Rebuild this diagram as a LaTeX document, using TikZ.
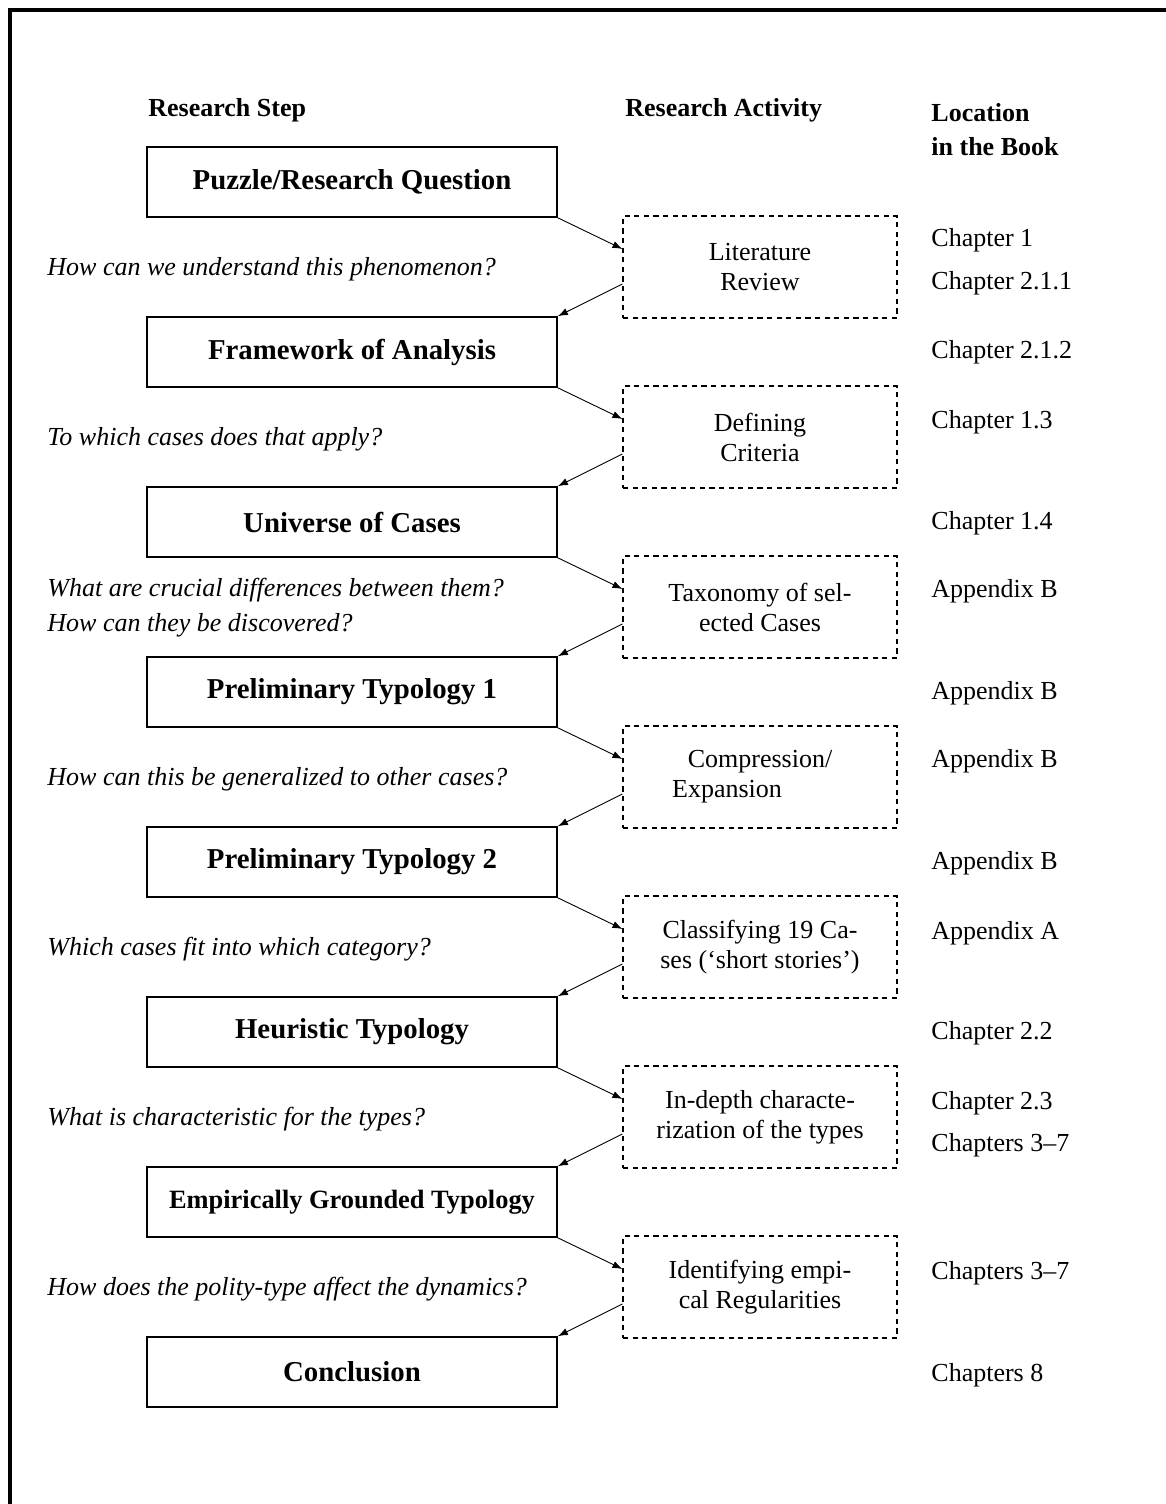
\documentclass[tikz,border=0pt]{standalone}
\usepackage{fontspec}
\setmainfont{Liberation Serif}
\usetikzlibrary{arrows.meta}

\tikzset{
  stepbox/.style={draw, line width=0.8pt, minimum width=205pt, minimum height=35pt, inner sep=0pt, font=\fontsize{14.4}{17}\selectfont\bfseries},
  actbox/.style={draw, line width=0.55pt, dash pattern=on 2.6pt off 2.2pt, minimum width=137pt, minimum height=51pt, inner sep=0pt, align=center, font=\fontsize{13}{15}\selectfont},
  question/.style={anchor=west, inner sep=0pt, font=\fontsize{13}{15}\selectfont\itshape},
  chap/.style={anchor=west, inner sep=0pt, font=\fontsize{13}{15}\selectfont},
  colhead/.style={anchor=west, inner sep=0pt, align=left, font=\fontsize{13}{17}\selectfont\bfseries},
  flow/.style={line width=0.45pt, -{Latex[length=5pt,width=3.6pt]}}
}

\begin{document}
\begin{tikzpicture}[x=0.5pt, y=-0.5pt]
            \useasboundingbox (0,0) rectangle (1166,1504);
            % frame
            \draw[line width=2.2pt] (10,1504) -- (10,10) -- (1166,10);
            % column heads
            \node[colhead] (hstep) at (148,110) {Research Step};
            \node[colhead] (hact) at (625,110) {Research Activity};
            \node[colhead] (hloc) at (931,130) {Location\\in the Book};
            % research steps
            \node[stepbox] (puzzle) at (352,182) {Puzzle/Research Question};
            \node[stepbox] (frame) at (352,352) {Framework of Analysis};
            \node[stepbox] (univ) at (352,522) {Universe of Cases};
            \node[stepbox] (prelimA) at (352,692) {Preliminary Typology 1};
            \node[stepbox] (prelimB) at (352,862) {Preliminary Typology 2};
            \node[stepbox] (heur) at (352,1032) {Heuristic Typology};
            \node[stepbox, font=\fontsize{13.2}{16}\selectfont\bfseries] (empir) at (352,1202) {Empirically Grounded Typology};
            \node[stepbox] (concl) at (352,1372) {Conclusion};
            % research activities
            \node[actbox] (lit) at (760,267) {Literature\\Review};
            \node[actbox] (crit) at (760,437) {Defining\\Criteria};
            \node[actbox] (taxo) at (760,607) {Taxonomy of sel-\\ected Cases};
            \node[actbox] (comp) at (760,777) {Compression/\\Expansion\hspace*{33pt}};
            \node[actbox] (class) at (760,947) {Classifying 19 Ca-\\ses (‘short stories’)};
            \node[actbox] (depth) at (760,1117) {In-depth characte-\\rization of the types};
            \node[actbox] (ident) at (760,1287) {Identifying empi-\\cal Regularities};
            % questions
            \node[question] (qA) at (47,269) {How can we understand this phenomenon?};
            \node[question] (qB) at (47,439) {To which cases does that apply?};
            \node[question] (qC) at (47,590) {What are crucial differences between them?};
            \node[question] (qD) at (47,625) {How can they be discovered?};
            \node[question] (qE) at (47,779) {How can this be generalized to other cases?};
            \node[question] (qF) at (47,949) {Which cases fit into which category?};
            \node[question] (qG) at (47,1119) {What is characteristic for the types?};
            \node[question] (qH) at (47,1289) {How does the polity-type affect the dynamics?};
            % location in the book
            \node[chap] (locA) at (931,240) {Chapter 1};
            \node[chap] (locB) at (931,283) {Chapter 2.1.1};
            \node[chap] (locC) at (931,352) {Chapter 2.1.2};
            \node[chap] (locD) at (931,422) {Chapter 1.3};
            \node[chap] (locE) at (931,523) {Chapter 1.4};
            \node[chap] (locF) at (931,591) {Appendix B};
            \node[chap] (locG) at (931,693) {Appendix B};
            \node[chap] (locH) at (931,761) {Appendix B};
            \node[chap] (locI) at (931,863) {Appendix B};
            \node[chap] (locJ) at (931,933) {Appendix A};
            \node[chap] (locK) at (931,1033) {Chapter 2.2};
            \node[chap] (locL) at (931,1103) {Chapter 2.3};
            \node[chap] (locM) at (931,1145) {Chapters 3–7};
            \node[chap] (locN) at (931,1273) {Chapters 3–7};
            \node[chap] (locO) at (931,1375) {Chapters 8};
            % arrows
            \draw[flow] (puzzle.south east) -- ([yshift=9pt]lit.west);
            \draw[flow] ([yshift=-8.5pt]lit.west) -- (frame.north east);
            \draw[flow] (frame.south east) -- ([yshift=9pt]crit.west);
            \draw[flow] ([yshift=-8.5pt]crit.west) -- (univ.north east);
            \draw[flow] (univ.south east) -- ([yshift=9pt]taxo.west);
            \draw[flow] ([yshift=-8.5pt]taxo.west) -- (prelimA.north east);
            \draw[flow] (prelimA.south east) -- ([yshift=9pt]comp.west);
            \draw[flow] ([yshift=-8.5pt]comp.west) -- (prelimB.north east);
            \draw[flow] (prelimB.south east) -- ([yshift=9pt]class.west);
            \draw[flow] ([yshift=-8.5pt]class.west) -- (heur.north east);
            \draw[flow] (heur.south east) -- ([yshift=9pt]depth.west);
            \draw[flow] ([yshift=-8.5pt]depth.west) -- (empir.north east);
            \draw[flow] (empir.south east) -- ([yshift=9pt]ident.west);
            \draw[flow] ([yshift=-8.5pt]ident.west) -- (concl.north east);
\end{tikzpicture}
\end{document}
